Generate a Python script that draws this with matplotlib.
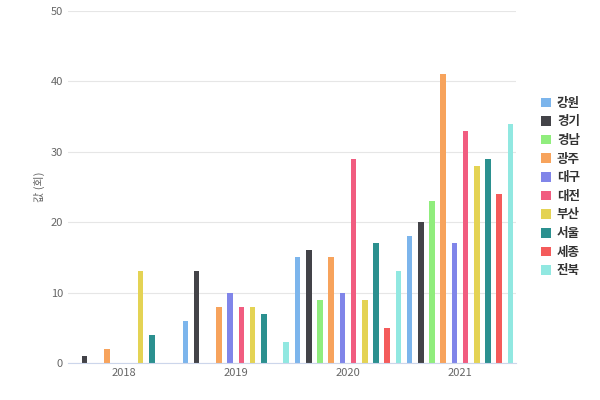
import numpy as np
import matplotlib
matplotlib.use("Agg")
import matplotlib.pyplot as plt

plt.rcParams['font.family'] = ['Noto Sans CJK KR', 'DejaVu Sans']

years = ["2018", "2019", "2020", "2021"]
regions = ["강원", "경기", "경남", "광주", "대구", "대전", "부산", "서울", "세종", "전북"]
colors = ["#7cb5ec", "#434348", "#90ed7d", "#f7a35c", "#8085e9",
          "#f15c80", "#e4d354", "#2b908f", "#f45b5b", "#91e8e1"]
values = [
    [0, 6, 15, 18],    # 강원
    [1, 13, 16, 20],   # 경기
    [0, 0, 9, 23],     # 경남
    [2, 8, 15, 41],    # 광주
    [0, 10, 10, 17],   # 대구
    [0, 8, 29, 33],    # 대전
    [13, 8, 9, 28],    # 부산
    [4, 7, 17, 29],    # 서울
    [0, 0, 5, 24],     # 세종
    [0, 3, 13, 34],    # 전북
]

fig = plt.figure(figsize=(6, 4), dpi=100)
ax = fig.add_axes([0.113, 0.0925, 0.747, 0.88])

x = np.arange(len(years))
n = len(regions)
step = 0.1
width = 0.05
for i, (name, vals, c) in enumerate(zip(regions, values, colors)):
    ax.bar(x + (i - (n - 1) / 2) * step, vals, width=width, color=c, label=name)

ax.set_xlim(-0.5, len(years) - 0.5)
ax.set_ylim(0, 50)
ax.set_yticks(range(0, 51, 10))
ax.set_xticks(x)
ax.set_xticklabels(years)
ax.grid(axis="y", color="#e6e6e6", linewidth=0.8)
ax.set_axisbelow(True)
for s in ["top", "right", "left"]:
    ax.spines[s].set_visible(False)
ax.spines["bottom"].set_color("#ccd6eb")
ax.tick_params(axis="both", length=0, labelsize=8, colors="#666666")
ax.set_ylabel("값 (회)", fontsize=8, color="#666666")

ax.legend(loc="center left", bbox_to_anchor=(1.03, 0.5), frameon=False,
          fontsize=9, handlelength=0.8, handleheight=0.8, labelspacing=0.45,
          handletextpad=0.5)
for t in ax.get_legend().get_texts():
    t.set_fontweight("bold")
    t.set_color("#333333")
for h in ax.get_legend().legend_handles:
    h.set_boxstyle = None

fig.savefig("out.png", dpi=100)
